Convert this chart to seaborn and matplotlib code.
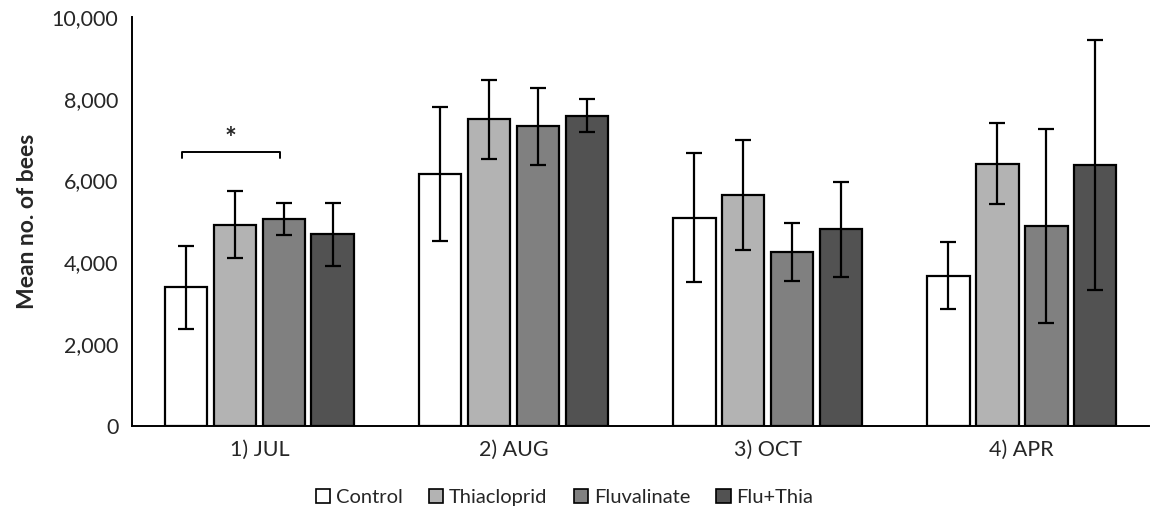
import numpy as np
import pandas as pd
import matplotlib
matplotlib.use("Agg")
import matplotlib.pyplot as plt
from matplotlib.patches import Patch
from matplotlib.ticker import FuncFormatter
import seaborn as sns

# Data
months = ['1) JUL', '2) AUG', '3) OCT', '4) APR']
treatments = ['Control', 'Thiacloprid', 'Fluvalinate', 'Flu+Thia']
colors = ['#ffffff', '#b3b3b3', '#808080', '#525252']

means = {
    'Control':     [3390, 6160, 5090, 3670],
    'Thiacloprid': [4920, 7490, 5650, 6410],
    'Fluvalinate': [5060, 7320, 4250, 4880],
    'Flu+Thia':    [4680, 7580, 4810, 6380],
}
errors = {
    'Control':     [1010, 1630, 1570, 815],
    'Thiacloprid': [815, 975, 1345, 990],
    'Fluvalinate': [390, 935, 710, 2370],
    'Flu+Thia':    [780, 400, 1160, 3050],
}

rows = []
for t in treatments:
    for i, m in enumerate(months):
        rows.append({'Month': m, 'Treatment': t, 'Mean': means[t][i], 'SE': errors[t][i]})
df = pd.DataFrame(rows)

sns.set_style("white")
plt.rcParams['font.family'] = ['Lato', 'DejaVu Sans']

fig, ax = plt.subplots(figsize=(11.5, 5.24), dpi=100)
fig.subplots_adjust(left=0.115, right=0.999, top=0.968, bottom=0.187)

sns.barplot(data=df, x='Month', y='Mean', hue='Treatment', order=months,
            hue_order=treatments, palette=colors, errorbar=None,
            width=0.77, gap=0.13, edgecolor='black', linewidth=1.6,
            legend=False, ax=ax)

# error bars placed on the bar centres
for k, t in enumerate(treatments):
    cont = ax.containers[k]
    xs = [p.get_x() + p.get_width() / 2 for p in cont.patches]
    ax.errorbar(xs, means[t], yerr=errors[t], fmt='none', ecolor='black',
                elinewidth=1.6, capsize=6, capthick=1.6, zorder=5)

# significance bracket Control vs Fluvalinate in July
c0 = ax.containers[0].patches[0]
c2 = ax.containers[2].patches[0]
x1 = c0.get_x() + c0.get_width() / 2 - 4 / 254
x2 = c2.get_x() + c2.get_width() / 2 - 4 / 254
ax.plot([x1, x1, x2, x2], [6560, 6690, 6690, 6560], color='black', lw=1.4)
ax.text((x1 + x2) / 2, 6700, '*', ha='center', va='bottom', fontsize=20, fontweight='bold')

ax.set_ylim(0, 10000)
ax.set_xlim(-0.5, 3.5)
ax.set_yticks(np.arange(0, 10001, 2000))
ax.yaxis.set_major_formatter(FuncFormatter(lambda v, p: f'{int(v):,}'))

ax.set_xticks(np.arange(-0.5, 3.6, 1.0))
ax.set_xticklabels([])
ax.set_xticks(range(len(months)), minor=True)
ax.set_xticklabels(months, minor=True)
ax.tick_params(axis='x', which='major', direction='out', length=6, width=1.3, colors='black')
ax.tick_params(axis='x', which='minor', length=0, pad=10, labelsize=15.5)
ax.tick_params(axis='y', direction='out', length=6, width=1.3, labelsize=15.5, pad=4)

for s in ['top', 'right']:
    ax.spines[s].set_visible(False)
for s in ['left', 'bottom']:
    ax.spines[s].set_color('black')
    ax.spines[s].set_linewidth(1.4)

ax.set_xlabel('')
ax.set_ylabel('Mean no. of bees', fontsize=16.5, fontweight='bold', labelpad=10)

handles = [Patch(facecolor=c, edgecolor='black', linewidth=1.2) for c in colors]
fig.legend(handles, treatments, loc='lower center', bbox_to_anchor=(0.491, 0.0),
           ncol=4, frameon=False, fontsize=14.5, handlelength=0.7, handleheight=0.7,
           handletextpad=0.3, columnspacing=1.3)

plt.savefig('out.png', dpi=100)
